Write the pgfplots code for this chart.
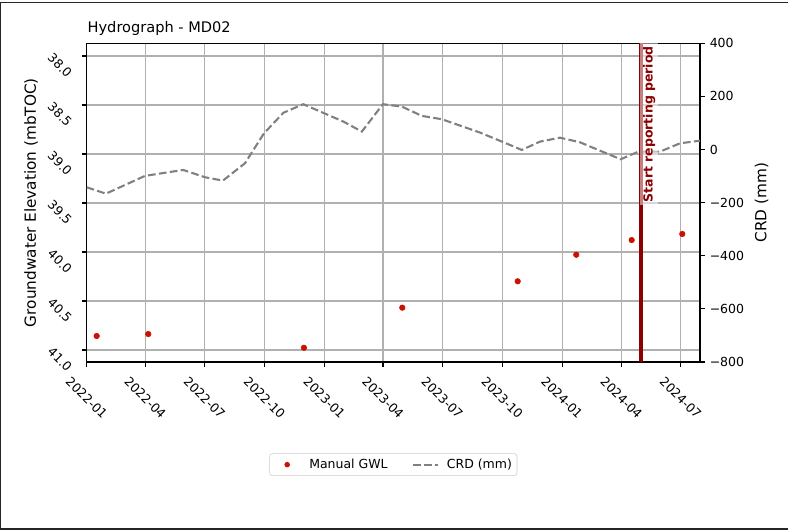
\documentclass[border=0pt]{standalone}
\usepackage{fontspec}
\setmainfont{DejaVu Sans}
\usepackage{pgfplots}
\usepackage{pgfplotstable}
\pgfplotsset{compat=1.18}
\definecolor{gwl}{RGB}{204,17,0}
\definecolor{crd}{RGB}{128,128,128}
\definecolor{dred}{RGB}{139,0,0}
\definecolor{gridc}{RGB}{176,176,176}
\pgfplotsset{
  dashlegend/.style={legend image code/.code={\path[draw=none,fill=none] (0pt,0pt) -- (24.9pt,0pt); \draw[crd, solid, line width=1.5pt, dash pattern=on 5.55pt off 2.4pt] (2.4pt,0pt) -- (20.4pt,0pt);}},
  markleg/.style={legend image code/.code={\path[draw=none,fill=none] (0pt,0pt) -- (24.9pt,0pt); \fill[gwl, draw=none] (11pt,0pt) circle (2pt);}},
}

\pgfplotstableread{
day gwl
15.4 40.857
94.6 40.837
333.6 40.977
484.6 40.568
661.8 40.299
751.7 40.028
836.8 39.878
914.5 39.816
}\gwltable

\pgfplotstableread{
day crd
0 -142.3
29.6 -166.4
89.6 -99.4
148.3 -77.1
181.6 -104.6
209.2 -117.3
243.0 -52.0
272.2 60.6
302.1 138.2
332.6 170.4
394.3 104.8
422.5 67.2
454.8 170.4
484.0 161.3
514.7 126.3
545.4 113.8
603.9 63.6
650.0 17.0
668.0 -1.9
695.9 29.4
726.7 44.4
757.4 27.1
788.1 -4.5
819.9 -36.9
847.0 -8.3
880.3 -8.3
911.0 23.2
941.7 33.0
}\crdtable

\begin{document}
\begin{tikzpicture}
\useasboundingbox (0,0) rectangle (567.36pt,382.32pt);
\draw[black!85, line width=1pt] (0,380.7pt) -- (567.36pt,380.7pt);
\draw[black!85, line width=1pt] (0.5pt,380.7pt) -- (0.5pt,1.44pt);
\draw[black!85, line width=1pt] (0,1.44pt) -- (567.36pt,1.44pt);

\begin{axis}[
  at={(62.4pt,121.7pt)}, anchor=south west,
  scale only axis, width=441.6pt, height=229.5pt,
  xmin=0, xmax=941.7,
  ymin=37.870, ymax=41.122, y dir=reverse,
  xtick={0,90,181,273,365,455,546,638,730,821,912},
  xticklabels={2022-01,2022-04,2022-07,2022-10,2023-01,2023-04,2023-07,2023-10,2024-01,2024-04,2024-07},
  ytick={38,38.5,39,39.5,40,40.5,41},
  yticklabels={38.0,38.5,39.0,39.5,40.0,40.5,41.0},
  tick align=outside, xtick pos=bottom, ytick pos=left,
  major tick length=3.5pt,
  grid=major, grid style={gridc, line width=0.8pt},
  axis line style={line width=0.8pt},
  tick style={line width=0.8pt, black},
  ticklabel style={font=\fontsize{9}{11}\selectfont},
  xticklabel style={anchor=center, yshift=-22.4pt, rotate=-45},
  yticklabel style={anchor=center, xshift=-15.7pt, yshift=-6.8pt, rotate=-45},
  ylabel={Groundwater Elevation (mbTOC)},
  ylabel style={at={(axis description cs:-0.0908,0.5)}, anchor=center, font=\fontsize{11}{13}\selectfont},
]
\addplot[only marks, mark=*, mark size=2pt, gwl] table[x=day, y=gwl] {\gwltable};
\end{axis}

\begin{axis}[
  at={(62.4pt,121.7pt)}, anchor=south west,
  scale only axis, width=441.6pt, height=229.5pt,
  xmin=0, xmax=941.7,
  ymin=-800, ymax=400,
  axis x line=none, axis y line*=right,
  ytick={-800,-600,-400,-200,0,200,400},
  yticklabels={−800,−600,−400,−200,0,200,400},
  tick align=outside, major tick length=3.5pt,
  axis line style={line width=0.8pt},
  tick style={line width=0.8pt, black},
  ticklabel style={font=\fontsize{9}{11}\selectfont},
  ylabel={CRD (mm)},
  ylabel style={at={(axis description cs:1.1006,0.5)}, anchor=center, font=\fontsize{11}{13}\selectfont},
  legend columns=2,
  legend cell align=left,
  legend style={at={(axis description cs:0.5,-0.2865)}, anchor=north,
    draw=black!20, rounded corners=2pt, fill=white,
    font=\fontsize{9}{11}\selectfont, inner xsep=1.6pt, inner ysep=1.8pt,
    /tikz/every even column/.append style={column sep=13.7pt}},
]
\addlegendimage{markleg}
\addlegendentry{Manual GWL}
\addplot[crd, line width=1.5pt, dash pattern=on 5.55pt off 2.4pt, dashlegend]
  table[x=day, y=crd] {\crdtable};
\addlegendentry{CRD (mm)}
\addplot[dred, line width=2.4pt, forget plot] coordinates {(851,-800) (851,400)};
\node[font=\fontsize{9}{11}\selectfont\bfseries, text=dred, fill=white,
  fill opacity=0.5, text opacity=1, inner sep=2pt,
  xshift=-0.6pt, rotate=90, anchor=north east] at (axis cs:851,400) {Start reporting period};
\end{axis}

\node[anchor=base west, font=\fontsize{10.5}{12}\selectfont, inner sep=0pt] at (62.9pt,359.1pt) {Hydrograph - MD02};
\end{tikzpicture}
\end{document}
